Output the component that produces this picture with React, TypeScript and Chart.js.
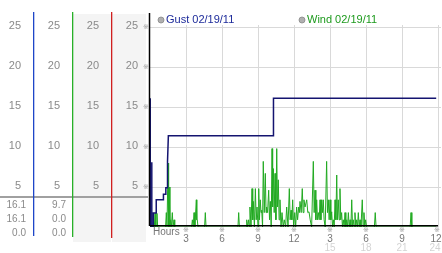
import React, { useEffect, useRef } from 'react';
import { Chart, registerables } from 'chart.js';
Chart.register(...registerables);

// ---- data ----
const gustHours = [0, 0.02, 0.12, 0.14, 0.16, 0.25, 0.28, 0.5, 0.52, 1.1, 1.12, 1.3, 1.32, 1.43, 1.46, 1.53, 10.27, 10.29, 23.85];
const gustValues = [16.1, 0, 0, 8.1, 0, 0, 1.75, 1.75, 3.4, 3.4, 4.1, 4.1, 4.9, 4.9, 8.2, 11.4, 11.4, 16.1, 16.1];

const windHours = [
  0, 0.36, 0.42, 0.48, 0.54, 0.58, 0.64, 1.3, 1.36, 1.42, 1.5, 1.55, 1.6, 1.66, 1.72, 1.78, 1.86, 1.92, 2.0, 2.06,
  3.47, 3.53, 3.6, 3.67, 3.74, 3.86, 3.9, 3.94, 4.0, 4.55, 4.61, 4.67, 7.33, 7.39, 7.45,
  8.0, 8.06, 8.14, 8.22, 8.28, 8.33, 8.42, 8.5, 8.56, 8.61, 8.7, 8.78, 8.85, 8.92, 9.0, 9.06, 9.12, 9.19, 9.25, 9.31, 9.38,
  9.44, 9.52, 9.61, 9.67, 9.72, 9.8, 9.89, 9.96, 10.03, 10.1, 10.17, 10.22, 10.28, 10.35, 10.42, 10.49, 10.56, 10.62,
  10.69, 10.76, 10.83, 10.92, 11.0, 11.1, 11.19, 11.3, 11.39, 11.5, 11.61, 11.68, 11.75, 11.82, 11.89, 11.97, 12.06,
  12.14, 12.22, 12.3, 12.39, 12.45, 12.5, 12.6, 12.69, 12.76, 12.83, 12.92, 13.06, 13.15, 13.25, 13.35, 13.47, 13.61,
  13.68, 13.75, 13.82, 13.89, 13.96, 14.03, 14.1, 14.17, 14.24, 14.31, 14.38, 14.44, 14.51, 14.6, 14.72, 14.79, 14.86,
  14.93, 15.0, 15.07, 15.14, 15.21, 15.28, 15.35, 15.42, 15.49, 15.56, 15.62, 15.69, 15.76, 15.83, 15.9, 15.97, 16.04,
  16.11, 16.18, 16.25, 16.32, 16.39, 16.46, 16.53, 16.6, 16.67, 16.74, 16.81, 16.88, 16.94, 17.01, 17.08, 17.15, 17.22,
  17.29, 17.36, 17.43, 17.5, 17.58, 17.69, 17.76, 17.83, 17.9, 17.97, 18.05, 18.7, 18.77, 18.84, 21.68, 21.75, 21.82, 23.85,
];
const windValues = [
  0, 0, 1.7, 0, 0, 1.7, 0, 0, 1.8, 0, 8.0, 0, 5.0, 0, 0.9, 0, 1.8, 0, 0.9, 0,
  0, 0.9, 0, 1.8, 0, 3.4, 0.9, 0.9, 0, 0, 1.8, 0, 0, 1.8, 0,
  0, 0.9, 0, 0.9, 0, 2.5, 0, 4.8, 0.9, 3.2, 0, 4.8, 0.9, 2.5, 0, 4.8, 0.9, 3.4, 1.8, 2.1, 0,
  8.2, 1.8, 6.7, 1.8, 2.5, 1.8, 4.6, 0.9, 3.2, 0, 9.8, 2.5, 7.3, 1.8, 6.7, 0.9, 9.8, 2.5,
  5.9, 0.9, 3.4, 0, 1.8, 0, 0.9, 0, 2.5, 0, 4.8, 0.9, 2.1, 0.9, 3.4, 0, 1.8,
  0, 2.5, 0.9, 2.5, 1.8, 3.2, 1.8, 4.8, 1.8, 3.4, 2.5, 3.4, 1.8, 1.9, 0.9, 0, 8.2,
  1.8, 4.6, 0.9, 3.4, 0.9, 1.8, 0.9, 3.4, 0.9, 3.4, 1.8, 3.4, 0.9, 0, 8.2, 1.8, 3.4,
  0.9, 3.4, 0.9, 1.9, 0, 0.9, 0, 3.4, 0.9, 6.5, 0.9, 3.4, 0.9, 4.8, 0.9, 1.8, 0,
  0.9, 0, 1.8, 0, 0.9, 0, 1.8, 0, 0.9, 0, 3.4, 0, 0.9, 0, 1.8, 0, 0.9,
  0, 1.8, 0, 0.9, 0, 3.4, 0, 1.8, 0, 0.9, 0, 0, 1.8, 0, 0, 1.8, 0, 0,
];

const yTickValues = [5, 10, 15, 20, 25];
const xTickHours = [3, 6, 9, 12, 15, 18, 21, 24];
const xTickLabels = ['3', '6', '9', '12', '3', '6', '9', '12'];
const xFaintHours = [15, 18, 21, 24];
const xFaintLabels = ['15', '18', '21', '24'];
const legendLabels = ['Gust 02/19/11', 'Wind 02/19/11'];
const summaryGust = ['16.1', '16.1', '0.0'];
const summaryWind = ['9.7', '0.0', '0.0'];
const xAxisTitle = 'Hours';

const FONT = '"Liberation Sans", Arial, sans-serif';

const decorPlugin = {
  id: 'decor',
  beforeDraw(chart: any) {
    const { ctx, chartArea: a, scales } = chart;
    const x = scales.x, y = scales.y;
    ctx.save();
    ctx.fillStyle = '#ffffff';
    ctx.fillRect(0, 0, chart.width, chart.height);
    // left panel shaded columns
    ctx.fillStyle = '#f4f4f4';
    ctx.fillRect(73, 14, 38, 228);
    ctx.fillRect(112, 14, 34, 228);
    // grid
    ctx.strokeStyle = '#d9d9d9';
    ctx.lineWidth = 1;
    for (const v of yTickValues) {
      const py = Math.round(y.getPixelForValue(v)) + 0.5;
      ctx.beginPath();
      ctx.moveTo(a.left, py);
      ctx.lineTo(441, py);
      ctx.stroke();
    }
    for (const h of xTickHours) {
      const px = Math.round(x.getPixelForValue(h)) + 0.5;
      ctx.beginPath();
      ctx.moveTo(px, a.top);
      ctx.lineTo(px, a.bottom);
      ctx.stroke();
    }
    ctx.restore();
  },
  afterDatasetsDraw(chart: any) {
    const { ctx, chartArea: a, scales } = chart;
    const x = scales.x, y = scales.y;
    ctx.save();
    // axes
    ctx.strokeStyle = '#000000';
    ctx.lineWidth = 1.5;
    ctx.beginPath();
    ctx.moveTo(a.left - 0.5, 13);
    ctx.lineTo(a.left - 0.5, a.bottom - 1);
    ctx.stroke();
    ctx.beginPath();
    ctx.moveTo(a.left, a.bottom - 1.25);
    ctx.lineTo(a.right, a.bottom - 1.25);
    ctx.stroke();

    // small tick marks
    ctx.fillStyle = '#999999';
    ctx.font = '7px "DejaVu Sans", sans-serif';
    ctx.textAlign = 'center';
    ctx.textBaseline = 'middle';
    for (const v of yTickValues) {
      ctx.fillText('※', 146, y.getPixelForValue(v));
    }
    for (const h of xTickHours) {
      ctx.fillText('※', Math.min(x.getPixelForValue(h), 437), 230);
    }

    // x labels
    ctx.font = '10px ' + FONT;
    ctx.fillStyle = '#777777';
    ctx.textAlign = 'left';
    ctx.fillText(xAxisTitle, 153, 232);
    ctx.textAlign = 'center';
    xTickHours.forEach((h, i) => {
      let px = x.getPixelForValue(h);
      if (px > 436) px = 436;
      ctx.fillText(xTickLabels[i], px, 239);
    });
    ctx.fillStyle = '#d4d4d4';
    xFaintHours.forEach((h, i) => {
      let px = x.getPixelForValue(h);
      if (px > 435) px = 435;
      ctx.fillText(xFaintLabels[i], px, 248);
    });

    // legend
    const legendX = [161, 302];
    const legendColors = ['#1c2a9a', '#1d9a1d'];
    legendLabels.forEach((t, i) => {
      ctx.beginPath();
      ctx.arc(legendX[i], 20, 3, 0, Math.PI * 2);
      ctx.fillStyle = '#b0b0b0';
      ctx.fill();
      ctx.strokeStyle = '#888888';
      ctx.lineWidth = 0.8;
      ctx.stroke();
      ctx.fillStyle = legendColors[i];
      ctx.font = '11px ' + FONT;
      ctx.textAlign = 'left';
      ctx.textBaseline = 'middle';
      ctx.fillText(t, legendX[i] + 5, 20);
    });

    // left panel
    ctx.strokeStyle = '#a0a0a0';
    ctx.lineWidth = 2;
    ctx.beginPath();
    ctx.moveTo(0, 197);
    ctx.lineTo(148, 197);
    ctx.stroke();
    const colLines = [
      { x: 33, c: '#1e46c8', b: 236 },
      { x: 72, c: '#28b028', b: 237 },
      { x: 111, c: '#d02020', b: 238 },
    ];
    for (const l of colLines) {
      ctx.fillStyle = l.c;
      ctx.fillRect(l.x, 12, 1.3, l.b - 12);
    }
    ctx.fillStyle = '#8a8a8a';
    ctx.font = '11px ' + FONT;
    ctx.textAlign = 'right';
    ctx.textBaseline = 'middle';
    const colRight = [21, 60, 99, 138];
    for (const v of yTickValues) {
      const py = y.getPixelForValue(v) - 1;
      for (const cx of colRight) ctx.fillText(String(v), cx, py);
    }
    ctx.font = '10px ' + FONT;
    const rows = [205, 219, 233];
    rows.forEach((ry, i) => {
      ctx.fillText(summaryGust[i], 26, ry);
      ctx.fillText(summaryWind[i], 66, ry);
    });
    ctx.restore();
  },
};

export default function App() {
  const ref = useRef<HTMLCanvasElement | null>(null);
  useEffect(() => {
    if (!ref.current) return;
    const chart = new Chart(ref.current, {
      type: 'line',
      data: {
        datasets: [
          {
            label: legendLabels[0],
            data: gustHours.map((h, i) => ({ x: h, y: gustValues[i] })),
            borderColor: '#141470',
            borderWidth: 1.5,
            pointRadius: 0,
            tension: 0,
          },
          {
            label: legendLabels[1],
            data: windHours.map((h, i) => ({ x: h, y: windValues[i] })),
            borderColor: '#22aa22',
            borderWidth: 1,
            pointRadius: 0,
            tension: 0,
          },
        ],
      },
      options: {
        animation: false,
        responsive: false,
        layout: { padding: { left: 150, right: 4, top: 25, bottom: 26 } },
        scales: {
          x: { type: 'linear', min: 0, max: 24, display: false },
          y: { min: 0, max: 25.25, display: false },
        },
        plugins: { legend: { display: false }, tooltip: { enabled: false } },
      },
      plugins: [decorPlugin],
    });
    return () => chart.destroy();
  }, []);
  return (
    <div style={{ position: 'absolute', left: 0, top: 0, width: 442, height: 253 }}>
      <canvas ref={ref} width={442} height={253} style={{ width: 442, height: 253 }} />
    </div>
  );
}
